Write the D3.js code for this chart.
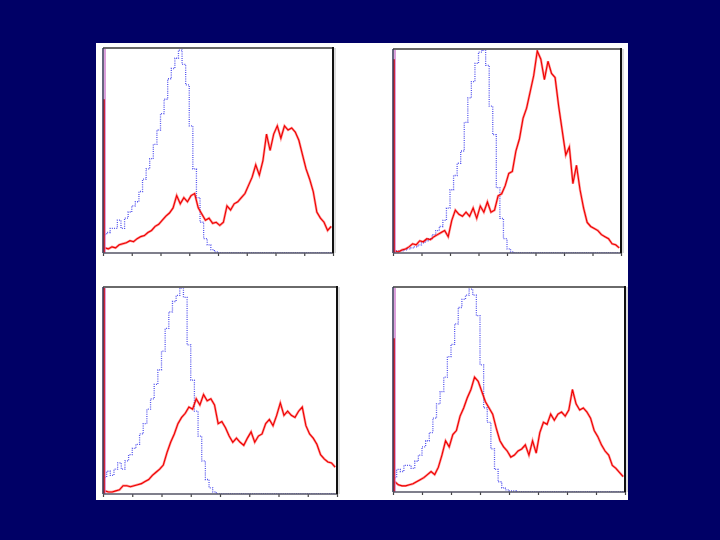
<!DOCTYPE html>
<html><head><meta charset="utf-8">
<script src="https://cdn.jsdelivr.net/npm/d3@7"></script>
<style>html,body{margin:0;padding:0;background:#000066;}svg{display:block;}</style>
</head><body>
<svg id="chart" width="720" height="540"></svg>
<script>
// channel-0 counts (left-edge spikes), % of panel height
const blueZero = [100, 100, 100, 100];
const redZero = [75, 95, 100, 75];

// Panel 1 (top-left)
const blue1 = [9,10,12,12,16,12,17,20,23,25,30,36,41,46,53,60,68,75,85,90,95,99,92,82,62,41,27,15,7,4,1.6,0.5,0,0,0,0,0,0,0,0,0,0,0,0,0,0,0,0,0,0,0,0,0,0,0,0,0,0,0,0,0,0,0,0];
const red1 = [2.5,2,3,2.5,4,4.5,5,6,5.5,7,8,8.5,10,11,13,14,16,18,19.5,22,28,24,27,25,28,29,22,19,16,17,14.5,15,13.5,15,23,21,24,25,27,29,33,37,43,38,45,58,50,58,62,56,62,60,61,59,55,48,41,36,30,20,17,15,11,13];
// Panel 2 (top-right)
const blue2 = [0.5,1,1,1.5,2,2.5,3,4,5,6,7,9,11,13,16,22,31,38,44,50,64,76,84,93,98.5,99.5,92,72,58,32,17,7,2,0.5,0,0,0,0,0,0,0,0,0,0,0,0,0,0,0,0,0,0,0,0,0,0,0,0,0,0,0,0,0,0];
const red2 = [1,0.5,1.5,2,3,4.5,4,6,5.5,7,6.5,8,9,10,11,8,16,21,19,18,20,18,22,17,23,20,25,20,21,28,29,33,39,40,50,56,66,71,79,87,99,95,85,94,88,86,72,60,48,52,34,43,31,22,15,13,12,11,9,8,7,4.5,4,2.5];
// Panel 3 (bottom-left)
const blue3 = [8,11,9,12,15,12,16,19,22,24,29,34,41,46,53,60,69,80,88,93,96,99.5,95,72,55,40,28,16,7,3,1,0,0,0,0,0,0,0,0,0,0,0,0,0,0,0,0,0,0,0,0,0,0,0,0,0,0,0,0,0,0,0,0,0];
const red3 = [1.5,1,1,1.5,2,4,4,3.5,4,4.5,5,6,7,9,10.5,12,14,20,25,29,34,37,39,42,41,46,43,48,45,46,43,34,35,32,28,25,27,25,23.5,27,30,25,28,29,34,36,33,38,44,38,40,38,37,40,42,33,29,27,24,19,17,15.5,15,13];
// Panel 4 (bottom-right)
const blue4 = [7,11,10,13,13,11.5,15,18,22,25,29,36,43,49,56,66,72,82,90,94,96,99,96,86,62,41,34,21,11,5,2,1,0.5,0.5,0,0,0,0,0,0,0,0,0,0,0,0,0,0,0,0,0,0,0,0,0,0,0,0,0,0,0,0,0,0];
const red4 = [5,3.5,3,3,3.5,4,5,6,7,8.5,10,8.5,12,18,25,22,28,30,37,41,46,50,56,54,49,44,41,38,31,25,22,20,17,18,20,21,23,18,25,19,29,34,33,38,35,38,39,37,40,50,43,40,41,39,36,30,27,23,20,18,13,11.5,9.5,7.5];

const blues = [blue1, blue2, blue3, blue4];
const reds = [red1, red2, red3, red4];

const svg = d3.select("#chart");
svg.append("rect").attr("width",720).attr("height",540).attr("fill","#000066");
svg.append("rect").attr("x",96).attr("y",43).attr("width",532).attr("height",457).attr("fill","#ffffff");

const panels = [
  {x0:103, x1:333, y0:48, y1:253},
  {x0:393, x1:621, y0:49, y1:253},
  {x0:103, x1:337, y0:287, y1:494},
  {x0:393, x1:625, y0:287, y1:492}
];

panels.forEach((p, k) => {
  const nb = blues[k].length;
  const x = d3.scaleLinear().domain([0, nb]).range([p.x0, p.x1]);
  const y = d3.scaleLinear().domain([0, 100]).range([p.y1, p.y0]);
  const g = svg.append("g");
  const clipId = "clip" + k;
  g.append("clipPath").attr("id", clipId).append("rect")
    .attr("x", p.x0).attr("y", p.y0 - 1).attr("width", p.x1 - p.x0).attr("height", p.y1 - p.y0 + 1);

  // bottom axis ticks
  const axis = d3.axisBottom(x).tickValues(d3.range(0, nb + 1, nb / 8)).tickSize(3).tickFormat("");
  const ax = g.append("g").attr("transform", `translate(0,${p.y1})`).call(axis);
  ax.select(".domain").remove();
  ax.selectAll(".tick line").attr("stroke", "#444").attr("stroke-width", 1.2);

  const plot = g.append("g").attr("clip-path", `url(#${clipId})`);
  // blue dotted histogram
  const blueLine = d3.line().x((d, i) => x(i + 0.5)).y(d => y(d)).curve(d3.curveStep);
  plot.append("path").datum(blues[k]).attr("d", blueLine)
    .attr("fill", "none").attr("stroke", "#5555ee").attr("stroke-width", 1.3)
    .attr("stroke-dasharray", "1,1.2");
  // red solid histogram
  const redLine = d3.line().x((d, i) => x(i + 0.5)).y(d => y(d)).curve(d3.curveLinear);
  plot.append("path").datum(reds[k]).attr("d", redLine)
    .attr("fill", "none").attr("stroke", "#ff3030").attr("stroke-width", 2.4).attr("stroke-opacity", 0.5);
  plot.append("path").datum(reds[k]).attr("d", redLine)
    .attr("fill", "none").attr("stroke", "#ee0000").attr("stroke-width", 1.1);

  // channel-0 spikes on left edge
  plot.append("line").attr("x1", x(0) + 2).attr("x2", x(0) + 2)
    .attr("y1", y(0)).attr("y2", y(blueZero[k]))
    .attr("stroke", "#d080d0").attr("stroke-width", 1.5);
  plot.append("line").attr("x1", x(0) + 1).attr("x2", x(0) + 1)
    .attr("y1", y(0)).attr("y2", y(redZero[k]))
    .attr("stroke", "#cc0000").attr("stroke-width", 1.5);

  // frame
  g.append("line").attr("x1", p.x0).attr("x2", p.x1).attr("y1", p.y0).attr("y2", p.y0)
    .attr("stroke", "#6a6a6a").attr("stroke-width", 2);
  g.append("line").attr("x1", p.x0).attr("x2", p.x0).attr("y1", p.y0).attr("y2", p.y1)
    .attr("stroke", "#333355").attr("stroke-width", 1.5);
  g.append("line").attr("x1", p.x0).attr("x2", p.x1).attr("y1", p.y1).attr("y2", p.y1)
    .attr("stroke", "#555566").attr("stroke-width", 1.5);
  g.append("line").attr("x1", p.x1).attr("x2", p.x1).attr("y1", p.y0 - 1).attr("y2", p.y1)
    .attr("stroke", "#111111").attr("stroke-width", 2);
  g.append("line").attr("x1", p.x1 + 2).attr("x2", p.x1 + 2).attr("y1", p.y0).attr("y2", p.y1)
    .attr("stroke", "#bbbbbb").attr("stroke-width", 1);
});
</script>
</body></html>
